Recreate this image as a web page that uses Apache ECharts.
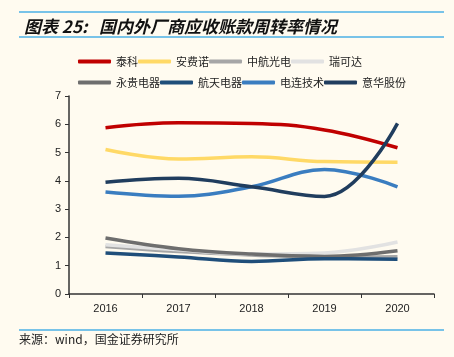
<!DOCTYPE html>
<html><head><meta charset="utf-8">
<script src="https://cdn.jsdelivr.net/npm/echarts@6/dist/echarts.min.js"></script>
<style>html,body{margin:0;padding:0;background:#FFFBF0;}#c{width:454px;height:357px;}</style>
</head><body><div id="c"></div>
<script>
var years = ['2016','2017','2018','2019','2020'];
var names = ['泰科','安费诺','中航光电','瑞可达','永贵电器','航天电器','电连技术','意华股份'];
var colors = ['#C00000','#FFD966','#A6A6A6','#E2E2E2','#6E6E6E','#1F4E7A','#3A7DC0','#203D5E'];
var taike   = [5.88, 6.05, 6.03, 5.80, 5.17];
var anfeinuo= [5.11, 4.77, 4.85, 4.68, 4.66];
var zhonghang=[1.68, 1.50, 1.38, 1.30, 1.32];
var ruikeda = [1.74, 1.56, 1.41, 1.45, 1.84];
var yonggui = [1.98, 1.60, 1.41, 1.33, 1.53];
var hangtian= [1.45, 1.31, 1.15, 1.25, 1.23];
var dianlian= [3.61, 3.46, 3.79, 4.40, 3.79];
var yihua   = [3.95, 4.09, 3.79, 3.45, 6.03];
var values = [taike, anfeinuo, zhonghang, ruikeda, yonggui, hangtian, dianlian, yihua];

var chart = echarts.init(document.getElementById('c'));
var series = names.map(function(n,i){
  return {name:n, type:'line', data:values[i], smooth:0.4, showSymbol:false, symbol:'none',
    lineStyle:{width:3.5, color:colors[i]}, itemStyle:{color:colors[i]}, z: 2+i};
});
var legendCommon = {icon:'roundRect', itemWidth:33, itemHeight:4, itemGap:0, itemTextGap:4,
  textStyle:{fontSize:11, color:'#222', width:47, fontFamily:'Noto Sans CJK SC'}, left:73};
chart.setOption({
  backgroundColor:'#FFFBF0',
  animation:false,
  title:{text:'图表 25:   国内外厂商应收账款周转率情况', left:19, top:13,
    textStyle:{fontSize:17, fontStyle:'italic', fontWeight:'bold', color:'#111', fontFamily:'Noto Sans CJK SC'}},
  legend:[
    Object.assign({top:51, data:names.slice(0,4)}, legendCommon),
    Object.assign({top:72, data:names.slice(4)}, legendCommon)
  ],
  grid:{left:69, right:20, top:96, bottom:63},
  xAxis:{type:'category', data:years, boundaryGap:true,
    axisLine:{lineStyle:{color:'#333', width:1.5}},
    axisTick:{show:true, length:4, lineStyle:{color:'#333'}},
    axisLabel:{fontSize:11, color:'#222', margin:9, fontFamily:'Liberation Sans'}},
  yAxis:{type:'value', min:0, max:7, interval:1,
    axisLine:{show:true, lineStyle:{color:'#333', width:1.5}},
    axisTick:{show:true, length:4, lineStyle:{color:'#333'}},
    splitLine:{show:false},
    axisLabel:{fontSize:11, color:'#222', margin:8, fontFamily:'Liberation Sans'}},
  graphic:[
    {type:'line', shape:{x1:19,y1:12,x2:444,y2:12}, style:{stroke:'#4BB0E6', lineWidth:1.5}},
    {type:'line', shape:{x1:19,y1:37,x2:444,y2:37}, style:{stroke:'#4BB0E6', lineWidth:1.5}},
    {type:'line', shape:{x1:19,y1:330,x2:444,y2:330}, style:{stroke:'#4BB0E6', lineWidth:1.5}},
    {type:'text', left:19, top:333, style:{text:'来源：wind，国金证券研究所', fontSize:12, fill:'#222', fontFamily:'Noto Sans CJK SC'}}
  ],
  series:series
});
</script></body></html>
